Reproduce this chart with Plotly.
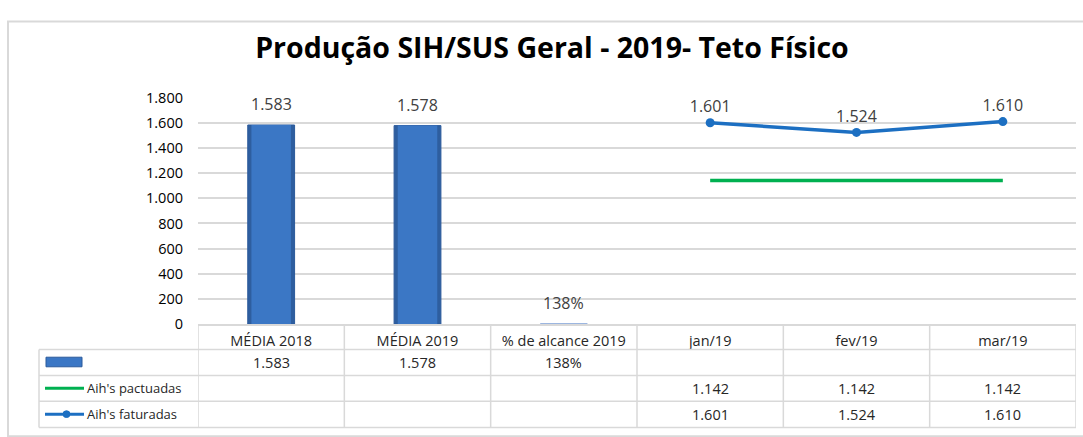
import plotly.graph_objects as go

# ---- data ----
categories = ['MÉDIA 2018', 'MÉDIA 2019', '% de alcance 2019', 'jan/19', 'fev/19', 'mar/19']
bar_categories = ['MÉDIA 2018', 'MÉDIA 2019', '% de alcance 2019']
bar_values = [1583, 1578, 1.38]
bar_labels = ['1.583', '1.578', '138%']
months = ['jan/19', 'fev/19', 'mar/19']
pactuadas = [1142, 1142, 1142]
faturadas = [1601, 1524, 1610]
y_ticks = [0, 200, 400, 600, 800, 1000, 1200, 1400, 1600, 1800]
series_names = ['', "Aih's pactuadas", "Aih's faturadas"]

W, H = 1083, 437
FONT = 'Open Sans'
GRID = '#d9d9d9'
BLUE_LINE = '#1c6fc2'
GREEN = '#00b050'
TXT = '#262626'


def px_y(py):
    return (H - py) / H


def px_x(px):
    return px / W


def fmt(v):
    return f"{v:,}".replace(',', '.')


fig = go.Figure()

# bar body (darker edges) + lighter face to mimic the bevelled Excel bars
fig.add_trace(go.Bar(
    x=bar_categories, y=bar_values, width=0.32,
    marker=dict(color=['#2e5e9f', '#2e5e9f', '#8eb4e3'],
                line=dict(color=['#2b5a9b', '#2b5a9b', '#8eaadb'], width=1)),
    showlegend=False, hoverinfo='skip'))
fig.add_trace(go.Bar(
    x=bar_categories, y=bar_values, width=0.27,
    marker=dict(color=['#3b77c5', '#3b77c5', 'rgba(0,0,0,0)'], line=dict(width=0)),
    showlegend=False, hoverinfo='skip'))

fig.add_trace(go.Scatter(
    x=months, y=pactuadas, mode='lines',
    line=dict(color=GREEN, width=3.5), showlegend=False))

fig.add_trace(go.Scatter(
    x=months, y=faturadas, mode='lines+markers+text',
    line=dict(color=BLUE_LINE, width=3.5),
    marker=dict(color=BLUE_LINE, size=9),
    text=[fmt(v) for v in faturadas], textposition='top center',
    textfont=dict(family=FONT, size=16, color='#404040'),
    cliponaxis=False, showlegend=False))

annotations = []
# bar data labels
for c, v, t in zip(bar_categories, bar_values, bar_labels):
    annotations.append(dict(x=c, y=v, xref='x', yref='y', text=t, showarrow=False,
                            yanchor='bottom', yshift=8,
                            font=dict(family=FONT, size=16, color='#404040')))

# data table rows (pixel bounds)
row_top = [355, 382, 409]
row_bot = [382, 409, 436.5]
row_vals = [
    dict(zip(bar_categories, bar_labels)),
    dict(zip(months, [fmt(v) for v in pactuadas])),
    dict(zip(months, [fmt(v) for v in faturadas])),
]
for i, vals in enumerate(row_vals):
    yc = px_y((row_top[i] + row_bot[i]) / 2)
    for c, t in vals.items():
        annotations.append(dict(x=c, y=yc, xref='x', yref='paper', text=t, showarrow=False,
                                yanchor='middle', font=dict(family=FONT, size=14.5, color=TXT)))
    if series_names[i]:
        annotations.append(dict(x=px_x(85), y=yc, xref='paper', yref='paper', text=series_names[i],
                                showarrow=False, xanchor='left', yanchor='middle',
                                font=dict(family=FONT, size=13, color=TXT)))

shapes = []
# outer chart border
shapes.append(dict(type='rect', xref='paper', yref='paper', x0=px_x(8), x1=1.02,
                   y0=-0.02, y1=px_y(12), line=dict(color=GRID, width=2)))
# table horizontal lines
for py in [355, 382, 409, 436.5]:
    shapes.append(dict(type='line', xref='paper', yref='paper', x0=px_x(39), x1=px_x(1076),
                       y0=px_y(py), y1=px_y(py), line=dict(color=GRID, width=1.5)))
# table vertical lines at category boundaries
for k in range(len(categories) + 1):
    shapes.append(dict(type='line', xref='x', yref='paper', x0=k - 0.5, x1=k - 0.5,
                       y0=px_y(329), y1=px_y(436.5), line=dict(color=GRID, width=1.5)))
shapes.append(dict(type='line', xref='paper', yref='paper', x0=px_x(39), x1=px_x(39),
                   y0=px_y(355), y1=px_y(436.5), line=dict(color=GRID, width=1.5)))
# legend keys
shapes.append(dict(type='rect', xref='paper', yref='paper', x0=px_x(46), x1=px_x(82),
                   y0=px_y(373), y1=px_y(363), fillcolor='#3b77c5',
                   line=dict(color='#2b5a9b', width=1)))
shapes.append(dict(type='line', xref='paper', yref='paper', x0=px_x(45), x1=px_x(84),
                   y0=px_y(395.5), y1=px_y(395.5), line=dict(color=GREEN, width=3)))
shapes.append(dict(type='line', xref='paper', yref='paper', x0=px_x(45), x1=px_x(84),
                   y0=px_y(422.5), y1=px_y(422.5), line=dict(color=BLUE_LINE, width=3)))
shapes.append(dict(type='circle', xref='paper', yref='paper', x0=px_x(63), x1=px_x(70),
                   y0=px_y(426), y1=px_y(419), fillcolor=BLUE_LINE, line=dict(color=BLUE_LINE, width=1)))

fig.update_layout(
    width=W, height=H, autosize=False,
    margin=dict(l=0, r=0, t=0, b=0),
    paper_bgcolor='white', plot_bgcolor='white',
    separators=',.', barmode='overlay',
    title=dict(text='<b>Produção SIH/SUS Geral - 2019- Teto Físico</b>', x=0.5097, xanchor='center',
               y=px_y(48), yanchor='middle', font=dict(family=FONT, size=28.5, color='#000000')),
    xaxis=dict(domain=[px_x(198), px_x(1076)], categoryorder='array', categoryarray=categories,
               range=[-0.5, 5.5], showgrid=False, showline=True, linecolor=GRID, linewidth=1.5,
               ticks='', ticklabelstandoff=3,
               tickfont=dict(family=FONT, size=14.5, color=TXT), fixedrange=True),
    yaxis=dict(domain=[px_y(328.3), px_y(91.7)], range=[0, 1800], tickvals=y_ticks,
               tickformat=',d', showgrid=True, gridcolor=GRID, gridwidth=1.5,
               zeroline=False, ticks='', ticklabelstandoff=14,
               tickfont=dict(family=FONT, size=14.5, color='#000000'), fixedrange=True),
    annotations=annotations, shapes=shapes,
)

fig.write_html('out.html', config={'displayModeBar': False},
               post_script="document.body.style.margin='0';document.body.style.overflow='hidden';")
